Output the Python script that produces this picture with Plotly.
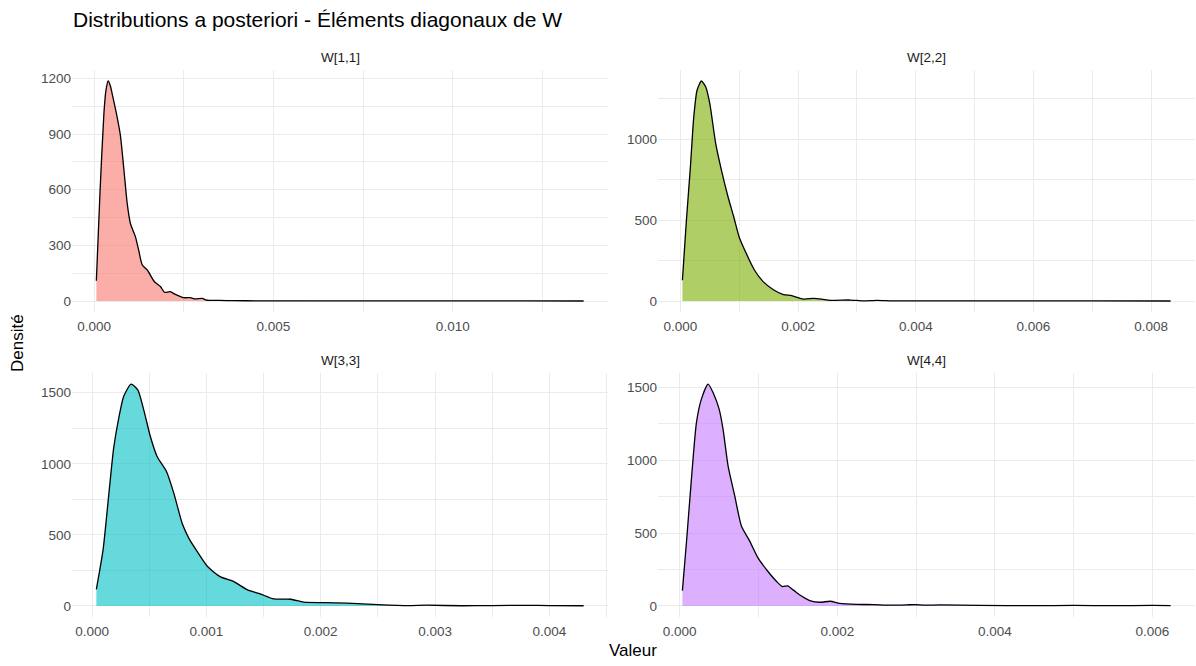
import plotly.graph_objects as go

# Posterior density estimates for the diagonal elements of W
labels = ["W[1,1]", "W[2,2]", "W[3,3]", "W[4,4]"]

x_w11 = [0.00006, 0.00016, 0.00027, 0.00033, 0.00039, 0.00045, 0.0005, 0.00062, 0.00073,
         0.00083, 0.00092, 0.00101, 0.00115, 0.00124, 0.00134, 0.00148, 0.00168, 0.00185,
         0.00196, 0.00212, 0.00226, 0.00249, 0.00268, 0.00282, 0.00301, 0.00315, 0.0035,
         0.0039, 0.0045, 0.006, 0.008, 0.010, 0.012, 0.01365]
d_w11 = [109, 580, 1010, 1140, 1186, 1160, 1118, 1010, 893, 705, 526, 418, 346, 274, 194,
         167, 104, 77, 47, 50, 36, 18, 18, 11, 14, 4, 3, 2, 1, 0.5, 0.3, 0.2, 0.2, 0.1]

x_w22 = [0.000034, 0.000102, 0.00017, 0.000227, 0.000283, 0.000357, 0.000431, 0.000499,
         0.0006, 0.000698, 0.00081, 0.000907, 0.000998, 0.00112, 0.00126, 0.00141, 0.00158,
         0.00175, 0.00189, 0.00209, 0.00226, 0.0024, 0.00254, 0.00288, 0.00311, 0.00334,
         0.0036, 0.004, 0.005, 0.006, 0.007, 0.00833]
d_w22 = [128, 499, 829, 1138, 1303, 1360, 1323, 1221, 973, 808, 643, 519, 396, 293, 190,
         118, 70, 40, 33, 12, 16, 12, 4, 6, 1, 4, 1, 1, 0.5, 0.3, 0.2, 0.1]

x_w33 = [0.0000377, 0.0000963, 0.000146, 0.000189, 0.000233, 0.000277, 0.000341, 0.0004,
         0.000452, 0.00051, 0.000569, 0.000651, 0.000715, 0.000788, 0.000846, 0.000919,
         0.00101, 0.00112, 0.00124, 0.00136, 0.00147, 0.00159, 0.00174, 0.00185, 0.00203,
         0.00223, 0.0025, 0.00276, 0.00293, 0.00323, 0.0035, 0.0038, 0.004, 0.0043]
d_w33 = [117, 394, 780, 1110, 1320, 1475, 1561, 1521, 1380, 1192, 1052, 946, 794, 582, 477,
         383, 277, 206, 171, 113, 85, 49, 47, 26, 23, 19, 9, 2, 5, 1, 2, 4, 2, 1]

x_w44 = [0.000034, 0.0000847, 0.000148, 0.000212, 0.000275, 0.00036, 0.000432, 0.0005,
         0.00055, 0.000614, 0.000699, 0.000784, 0.00089, 0.000995, 0.00112, 0.00123, 0.0013,
         0.00137, 0.00144, 0.00152, 0.00165, 0.00178, 0.00191, 0.00203, 0.00225, 0.00246,
         0.00267, 0.00288, 0.00299, 0.00311, 0.0033, 0.0038, 0.0045, 0.005, 0.0055, 0.006,
         0.00623]
d_w44 = [105, 432, 868, 1258, 1419, 1522, 1453, 1350, 1212, 959, 753, 546, 443, 328, 236,
         167, 133, 138, 110, 76, 37, 25, 32, 18, 11, 9, 5, 7, 9, 5, 7, 3, 2, 3, 2, 3, 2]

fill_colors = ["#F8766D", "#7CAE00", "#00BFC4", "#C77CFF"]

x_major = [0.005, 0.002, 0.001, 0.002]
y_major = [300, 500, 500, 500]

series = [(x_w11, d_w11), (x_w22, d_w22), (x_w33, d_w33), (x_w44, d_w44)]

W, H = 1196, 666
col_px = [(72, 608), (658, 1195)]
row_px = [(70, 312), (373, 617)]

FONT = "Liberation Sans, Arial, sans-serif"
GRID = "#ebebeb"
TICK_FONT = dict(family=FONT, size=13.5, color="#4d4d4d")


def hex_rgba(h, a):
    h = h.lstrip("#")
    return f"rgba({int(h[0:2], 16)},{int(h[2:4], 16)},{int(h[4:6], 16)},{a})"


fig = go.Figure()
layout = {}
annotations = []

for i, ((xs, ds), lab, col) in enumerate(zip(series, labels, fill_colors)):
    r, c = divmod(i, 2)
    n = "" if i == 0 else str(i + 1)
    fig.add_trace(go.Scatter(
        x=xs, y=ds, mode="lines", fill="tozeroy",
        fillcolor=hex_rgba(col, 0.6),
        line=dict(color="black", width=1.3, shape="spline", smoothing=0.6),
        xaxis="x" + n, yaxis="y" + n, showlegend=False, hoverinfo="x+y",
    ))
    xr = max(xs) - min(xs)
    yr = max(ds)
    x0, x1 = col_px[c]
    y0, y1 = row_px[r]
    layout["xaxis" + n] = dict(
        domain=[x0 / W, x1 / W], anchor="y" + n,
        range=[min(xs) - 0.05 * xr, max(xs) + 0.05 * xr],
        tick0=0, dtick=x_major[i], tickformat=".3f",
        showgrid=True, gridcolor=GRID, gridwidth=1.1,
        minor=dict(showgrid=True, gridcolor=GRID, gridwidth=0.55, tick0=0, dtick=x_major[i] / 2),
        zeroline=False, showline=False, ticks="", tickfont=TICK_FONT,
        ticklabelstandoff=4,
    )
    layout["yaxis" + n] = dict(
        domain=[1 - y1 / H, 1 - y0 / H], anchor="x" + n,
        range=[-0.05 * yr, 1.05 * yr],
        tick0=0, dtick=y_major[i], tickformat="d",
        showgrid=True, gridcolor=GRID, gridwidth=1.1,
        minor=dict(showgrid=True, gridcolor=GRID, gridwidth=0.55, tick0=0, dtick=y_major[i] / 2),
        zeroline=False, showline=False, ticks="", tickfont=TICK_FONT,
    )
    annotations.append(dict(
        text=lab, x=(x0 + x1) / 2 / W, y=1 - (y0 - 13) / H,
        xref="paper", yref="paper", showarrow=False, xanchor="center", yanchor="middle",
        font=dict(family=FONT, size=13.5, color="#1a1a1a"),
    ))

annotations.append(dict(
    text="Distributions a posteriori - Éléments diagonaux de W",
    x=71 / W, y=1 - 20 / H, xref="paper", yref="paper", showarrow=False,
    xanchor="left", yanchor="middle",
    font=dict(family=FONT, size=21, color="black"),
))
annotations.append(dict(
    text="Valeur", x=633 / W, y=1 - 650 / H, xref="paper", yref="paper", showarrow=False,
    xanchor="center", yanchor="middle",
    font=dict(family=FONT, size=17, color="black"),
))
annotations.append(dict(
    text="Densité", x=17 / W, y=1 - 343 / H, xref="paper", yref="paper", showarrow=False,
    xanchor="center", yanchor="middle", textangle=-90,
    font=dict(family=FONT, size=17, color="black"),
))

fig.update_layout(
    width=W, height=H,
    margin=dict(l=0, r=0, t=0, b=0),
    paper_bgcolor="white", plot_bgcolor="white",
    annotations=annotations,
    **layout,
)

fig.write_html("out.html")
